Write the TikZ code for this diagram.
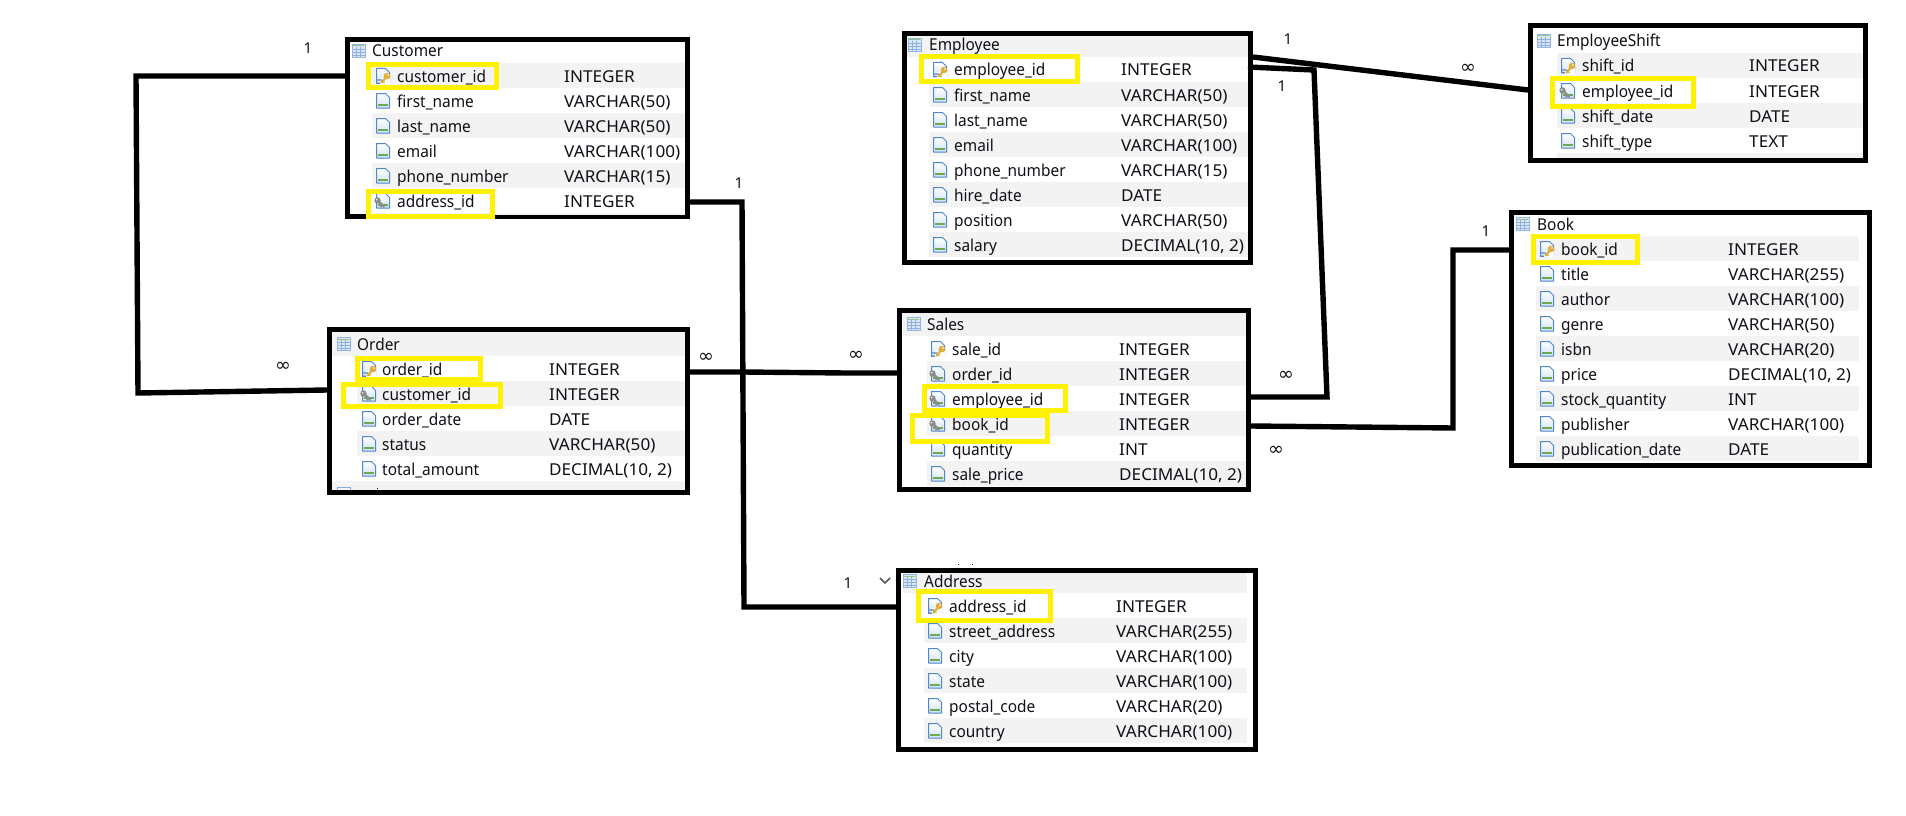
\documentclass[tikz,border=0pt]{standalone}
\usepackage{fontspec}
\setmainfont{Noto Sans}
\newfontfamily\symfont{DejaVu Sans}
\newfontfamily\namefont[FakeStretch=0.94]{Noto Sans}
\newfontfamily\typefont[FakeStretch=1.045]{Noto Sans}
\usetikzlibrary{calc}
\definecolor{band}{HTML}{F3F3F3}
\definecolor{hiyel}{HTML}{FFF200}
\definecolor{ink}{HTML}{101018}
\definecolor{pageblue}{HTML}{4F86CC}
\definecolor{pagefill}{HTML}{CFE2F7}
\definecolor{pagegreen}{HTML}{6EA84F}
\definecolor{keygold}{HTML}{E2AE3A}
\definecolor{keygrey}{HTML}{8C8C8C}
\tikzset{
  tablebox/.style={draw=black,fill=white,line width=5pt,inner sep=0pt,rectangle},
  rowtext/.style={inner sep=0pt,anchor=base west,text=ink,font=\namefont\fontsize{16.4}{18}\selectfont},
  typetext/.style={rowtext,font=\typefont\fontsize{16.4}{18}\selectfont},
  cardlabel/.style={inner sep=0pt,text=ink,font=\fontsize{15}{17}\selectfont},
  manylabel/.style={inner sep=0pt,text=ink,font=\symfont\fontsize{19}{21}\selectfont},
  conn/.style={draw=black,line width=5.4pt,line join=miter},
  hilite/.style={draw=hiyel,line width=4.6pt},
}
% table frame: name, x0,y0,x1,y1 (outer edges)
\newcommand\tableframe[5]{%
  \pgfmathsetmacro\tw{#4-#2-5}\pgfmathsetmacro\th{#5-#3-5}%
  \pgfmathsetmacro\cx{(#2+#4)/2}\pgfmathsetmacro\cy{(#3+#5)/2}%
  \node[tablebox,minimum width=\tw pt,minimum height=\th pt] (#1) at (\cx,\cy) {};}
% grey band
\newcommand\gband[4]{\fill[band] (#1,#3) rectangle (#2,#4);}
% header: node id, icon x, text x, y, title
\newcommand\thead[5]{%
  \begin{scope}[shift={(#2,#4)}]
    \fill[white!80!pageblue] (0,-6.5) rectangle (13,6.5);
    \draw[pageblue!60,line width=.8pt] (0,-6.5) rectangle (13,6.5);
    \draw[pagegreen!70,line width=1pt] (.6,-5) -- (12.4,-5);
    \foreach \g in {-2,1,4}{\draw[pageblue!65,line width=.6pt] (.5,\g) -- (12.5,\g);}
    \foreach \g in {4.5,8.5}{\draw[pageblue!65,line width=.6pt] (\g,-4) -- (\g,6);}
  \end{scope}
  \node[rowtext] (#1) at (#3,{#4+6}) {#5};}
% column icon: x, y, kind (0 plain,1 primary,2 foreign)
\newcommand\colicon[3]{%
  \begin{scope}[shift={(#1,#2)}]
    \shade[top color=white,bottom color=pagefill,shading angle=0]
       (.5,-7.5) -- (9.5,-7.5) -- (13.5,-3.5) -- (13.5,7) -- (.5,7) -- cycle;
    \draw[pageblue,line width=1pt,line join=round] (.5,-7.5) -- (9.5,-7.5) -- (13.5,-3.5) -- (13.5,7) -- (.5,7) -- cycle;
    \fill[pagegreen] (2,3) rectangle (12,5.4);
    \ifnum#3=1
      \fill[white] (4,2) rectangle (14,7.8);
      \draw[pageblue,line width=1pt] (.5,4) -- (.5,7) -- (4,7);
      \fill[pageblue!70] (1,3) rectangle (6,5);
      \draw[keygold,line width=2.2pt,line cap=round] (5.5,6.5) -- (10,1.5);
      \fill[keygold] (11,0) circle[radius=3.3];
      \fill[white] (12,-1) circle[radius=.8];
      \draw[keygold,line width=1.4pt] (6.5,5) -- (8.5,6.8);
    \fi
    \ifnum#3=2
      \fill[keygrey] (1.5,-.5) circle[radius=3.2];
      \draw[keygrey,line width=2.4pt] (1.5,-.5) -- (8.5,6);
      \fill[white] (.7,-1.3) circle[radius=.8];
      \draw[keygrey,line width=1.3pt] (6,4) -- (4.5,6.5);
    \fi
  \end{scope}}
% row: node id, y, kind, name, type  (uses \ix \nx \tx)
\newcommand\crow[5]{%
  \coordinate (#1) at (\nx,#2);
  \colicon{\ix}{#2}{#3}
  \node[rowtext] (#1-name) at (\nx,{#2+6}) {#4};
  \node[typetext] (#1-type) at (\tx,{#2+6}) {#5};}
\newcommand\hlbox[4]{\draw[hilite] ({#1+2.3},{#2+2.3}) rectangle ({#3-2.3},{#4-2.3});}
\begin{document}
\begin{tikzpicture}[x=1pt,y=-1pt]
\useasboundingbox (0,0) rectangle (1906,816);
\fill[white] (0,0) rectangle (1906,816);

% ---------- Customer
\tableframe{customer}{345}{37}{690}{219}
\gband{372}{685}{63}{88}\gband{372}{685}{113}{138}\gband{372}{685}{163}{188}\gband{372}{685}{213}{214.5}
\thead{customer-h}{352}{372}{51}{Customer}
\def\ix{376}\def\nx{397}\def\tx{564}
\crow{cust-cid}{76}{1}{customer\_id}{INTEGER}
\crow{cust-fn}{101}{0}{first\_name}{VARCHAR(50)}
\crow{cust-ln}{126}{0}{last\_name}{VARCHAR(50)}
\crow{cust-em}{151}{0}{email}{VARCHAR(100)}
\crow{cust-ph}{176}{0}{phone\_number}{VARCHAR(15)}
\crow{cust-ad}{201}{2}{address\_id}{INTEGER}
\hlbox{366}{62}{499}{90}
\hlbox{366}{189}{495}{219}

% ---------- Order
\tableframe{order}{327}{327}{690}{495}
\fill[band] (332,332) rectangle (685,356);
\gband{357}{685}{381}{406}\gband{357}{685}{431}{456}
\fill[band] (332,481) rectangle (685,490);
\thead{order-h}{337}{357}{344}{Order}
\def\ix{362}\def\nx{382}\def\tx{549}
\crow{ord-oid}{369}{1}{order\_id}{INTEGER}
\crow{ord-cid}{394}{2}{customer\_id}{INTEGER}
\crow{ord-dt}{419}{0}{order\_date}{DATE}
\crow{ord-st}{444}{0}{status}{VARCHAR(50)}
\crow{ord-ta}{469}{0}{total\_amount}{DECIMAL(10, 2)}
\draw[pageblue!70,line width=1pt] (337,489.5) -- (337,487) -- (350,487) -- (350,489.5);
\fill[ink] (377,487.5) rectangle (378.2,489);
\hlbox{355}{356}{483}{382}
\hlbox{341}{382}{503}{409}

% ---------- Employee
\tableframe{employee}{902}{31}{1253}{265}
\fill[band] (907,36) rectangle (1248,57);
\gband{929}{1248}{82}{107}\gband{929}{1248}{132}{157}\gband{929}{1248}{182}{207}\gband{929}{1248}{232}{257}
\thead{employee-h}{908}{929}{45}{Employee}
\def\ix{933}\def\nx{954}\def\tx{1121}
\crow{emp-id}{70}{1}{employee\_id}{INTEGER}
\crow{emp-fn}{95}{0}{first\_name}{VARCHAR(50)}
\crow{emp-ln}{120}{0}{last\_name}{VARCHAR(50)}
\crow{emp-em}{145}{0}{email}{VARCHAR(100)}
\crow{emp-ph}{170}{0}{phone\_number}{VARCHAR(15)}
\crow{emp-hd}{195}{0}{hire\_date}{DATE}
\crow{emp-po}{220}{0}{position}{VARCHAR(50)}
\crow{emp-sa}{245}{0}{salary}{DECIMAL(10, 2)}
\hlbox{919}{54}{1080}{84}

% ---------- EmployeeShift
\tableframe{shift}{1528}{23}{1868}{163}
\gband{1557}{1863}{53}{78}\gband{1557}{1863}{103}{128}\gband{1557}{1863}{153}{158}
\thead{shift-h}{1537}{1557}{41}{EmployeeShift}
\def\ix{1561}\def\nx{1582}\def\tx{1749}
\crow{sh-id}{66}{1}{shift\_id}{INTEGER}
\crow{sh-em}{91}{2}{employee\_id}{INTEGER}
\crow{sh-dt}{116}{0}{shift\_date}{DATE}
\crow{sh-ty}{141}{0}{shift\_type}{TEXT}
\hlbox{1550}{76}{1696}{109}

% ---------- Book
\tableframe{book}{1509}{210}{1872}{468}
\gband{1536}{1859}{236}{261}\gband{1536}{1859}{286}{311}\gband{1536}{1859}{336}{361}\gband{1536}{1859}{386}{411}\gband{1536}{1859}{436}{461}
\thead{book-h}{1516}{1537}{224}{Book}
\def\ix{1540}\def\nx{1561}\def\tx{1728}
\crow{bk-id}{249}{1}{book\_id}{INTEGER}
\crow{bk-ti}{274}{0}{title}{VARCHAR(255)}
\crow{bk-au}{299}{0}{author}{VARCHAR(100)}
\crow{bk-ge}{324}{0}{genre}{VARCHAR(50)}
\crow{bk-is}{349}{0}{isbn}{VARCHAR(20)}
\crow{bk-pr}{374}{0}{price}{DECIMAL(10, 2)}
\crow{bk-st}{399}{0}{stock\_quantity}{INT}
\crow{bk-pu}{424}{0}{publisher}{VARCHAR(100)}
\crow{bk-pd}{449}{0}{publication\_date}{DATE}
\hlbox{1531}{234}{1640}{265}

% ---------- Sales
\tableframe{sales}{897}{308}{1251}{492}
\fill[band] (903,313) rectangle (1246,336);
\gband{927}{1246}{361}{386}\gband{927}{1246}{411}{436}\gband{927}{1246}{461}{486}
\thead{sales-h}{907}{927}{324}{Sales}
\def\ix{931}\def\nx{952}\def\tx{1119}
\crow{sa-id}{349}{1}{sale\_id}{INTEGER}
\crow{sa-or}{374}{2}{order\_id}{INTEGER}
\crow{sa-em}{399}{2}{employee\_id}{INTEGER}
\crow{sa-bk}{424}{2}{book\_id}{INTEGER}
\crow{sa-qu}{449}{0}{quantity}{INT}
\crow{sa-pr}{474}{0}{sale\_price}{DECIMAL(10, 2)}
\hlbox{922}{384}{1068}{413}
\hlbox{910}{413}{1050}{444}

% ---------- Address
\tableframe{address}{896}{568}{1258}{752}
\fill[band] (903,573) rectangle (1247,593);
\gband{924}{1247}{618}{643}\gband{924}{1247}{668}{693}\gband{924}{1247}{718}{743}
\thead{address-h}{903}{924}{581}{Address}
\def\ix{928}\def\nx{949}\def\tx{1116}
\crow{ad-id}{606}{1}{address\_id}{INTEGER}
\crow{ad-st}{631}{0}{street\_address}{VARCHAR(255)}
\crow{ad-ci}{656}{0}{city}{VARCHAR(100)}
\crow{ad-sa}{681}{0}{state}{VARCHAR(100)}
\crow{ad-po}{706}{0}{postal\_code}{VARCHAR(20)}
\crow{ad-co}{731}{0}{country}{VARCHAR(100)}
\hlbox{916}{589}{1053}{623}
\draw[black!65,line width=1.6pt] (880,578) -- (885,583) -- (890,578);
\fill[ink] (957.5,563.5) rectangle (959,565);
\fill[ink] (971.5,563.5) rectangle (973,565);

% ---------- bends
\coordinate (b1) at (136,76);
\coordinate (b2) at (138,393);
\coordinate (c1) at (742,202);
\coordinate (c2) at (744,607);
\coordinate (d1) at (743,372);
\coordinate (d2) at (846,373);
\coordinate (e1) at (1314,70);
\coordinate (e2) at (1327,397);
\coordinate (f1) at (1453,428);
\coordinate (f2) at (1453,250);

% ---------- connectors
\draw[conn] (customer.west |- cust-cid) -- (b1) -- (b2) -- (order.west |- 0,390);
\draw[conn] (customer.east |- c1) -- (c1) -- (c2) -- (address.west |- c2);
\draw[conn] (order.east |- d1) -- (d1) -- (d2) -- (sales.west |- d2);
\draw[conn] (employee.east |- 0,57) -- (shift.west |- 0,90);
\draw[conn] (1248,67) -- (e1) -- (e2) -- (sales.east |- e2);
\draw[conn] (sales.east |- 0,426) -- (f1) -- (f2) -- (book.west |- f2);

% ---------- cardinality labels
\node[cardlabel] (l1) at (308,48) {1};
\node[cardlabel] (l2) at (739,183) {1};
\node[manylabel] (m1) at (283,367) {∞};
\node[manylabel] (m2) at (706,358) {∞};
\node[manylabel] (m3) at (856,356) {∞};
\node[cardlabel] (l3) at (1288,39) {1};
\node[cardlabel] (l4) at (1282,86) {1};
\node[manylabel] (m4) at (1468,69) {∞};
\node[cardlabel] (l5) at (1486,231) {1};
\node[manylabel] (m5) at (1286,376) {∞};
\node[manylabel] (m6) at (1276,451) {∞};
\node[cardlabel] (l6) at (848,583) {1};
\end{tikzpicture}
\end{document}
